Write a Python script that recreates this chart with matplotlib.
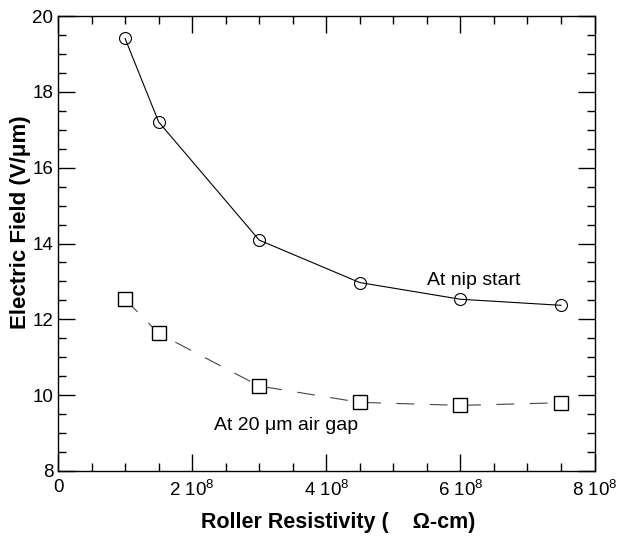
# Electric field vs roller resistivity
import matplotlib.pyplot as plt
from matplotlib.ticker import MultipleLocator

plt.rcParams['font.family'] = ['Liberation Sans', 'DejaVu Sans']
plt.rcParams['mathtext.fontset'] = 'custom'
plt.rcParams['mathtext.rm'] = 'Liberation Sans'

# Data
resistivity = [1e8, 1.5e8, 3e8, 4.5e8, 6e8, 7.5e8]
field_nip = [19.41, 17.21, 14.09, 12.97, 12.53, 12.37]
field_gap = [12.53, 11.63, 10.24, 9.81, 9.73, 9.8]
xtick_vals = [0, 2e8, 4e8, 6e8, 8e8]
xtick_labels = ['0', r'2 10$^8$', r'4 10$^8$', r'6 10$^8$', r'8 10$^8$']

fig = plt.figure(figsize=(6.21, 5.37), dpi=100)
ax = fig.add_axes([0.0934, 0.123, 0.864, 0.847])

ax.plot(resistivity, field_nip, color='black', lw=0.8, marker='o', ms=8.6,
        mfc='none', mec='black', mew=0.8)
ax.plot(resistivity, field_gap, color='#444444', lw=0.8, dashes=[16, 14],
        marker='s', ms=9.6, mfc='white', mec='black', mew=1.0)

ax.text(5.5e8, 12.9, 'At nip start', fontsize=14, ha='left', va='baseline')
ax.text(2.33e8, 9.08, 'At 20 \u03bcm air gap', fontsize=14, ha='left', va='baseline')

# Plot design
ax.set_xlim(0, 8e8)
ax.set_ylim(8, 20)
ax.set_xticks(xtick_vals)
ax.set_xticklabels(xtick_labels)
ax.xaxis.set_minor_locator(MultipleLocator(0.5e8))
ax.yaxis.set_major_locator(MultipleLocator(2))
ax.yaxis.set_minor_locator(MultipleLocator(0.5))
ax.tick_params(which='both', direction='in', top=True, right=True, labelsize=13.5)
ax.tick_params(which='major', length=12, width=1)
ax.tick_params(axis='x', which='major', pad=6)
ax.tick_params(which='minor', length=6, width=1)
for s in ax.spines.values():
    s.set_linewidth(1)

ax.set_xlabel('Roller Resistivity (    \u03a9-cm)', fontsize=15.5, fontweight='bold')
ax.xaxis.set_label_coords(0.523, -0.09)
ax.set_ylabel('Electric Field (V/\u03bcm)', fontsize=16, fontweight='bold')
ax.yaxis.set_label_coords(-0.05, 0.547)

plt.savefig('out.png', dpi=100)
